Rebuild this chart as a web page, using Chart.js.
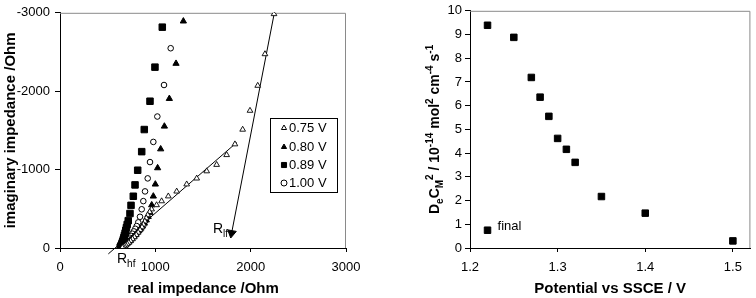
<!DOCTYPE html>
<html><head><meta charset="utf-8">
<script src="https://cdn.jsdelivr.net/npm/chart.js@4.4.0/dist/chart.umd.min.js"></script>
<style>
html,body{margin:0;padding:0;background:#fff;width:756px;height:298px;overflow:hidden}
#w1{position:absolute;left:0;top:0;width:372px;height:298px}
#w2{position:absolute;left:380px;top:0;width:376px;height:298px}
</style></head><body>
<div id="w1"><canvas id="c1"></canvas></div>
<div id="w2"><canvas id="c2"></canvas></div>
<script>
// ---------- Left panel: impedance (Nyquist) ----------
const realTicks = [0, 1000, 2000, 3000];
const imagTicks = [-3000, -2000, -1000, 0];
const seriesNames = ['0.75 V', '0.80 V', '0.89 V', '1.00 V'];

const re075 = [2245,2150,2074,1993,1916,1835,1748,1643,1539,1434,1329,1224,1136,1066,1013,961,940,920,905,890,875,860,840,820,800,780,760,740,722,705,690,676,664,654];
const im075 = [-2985,-2474,-2071,-1752,-1511,-1324,-1187,-1062,-980,-888,-813,-722,-660,-598,-548,-494,-460,-420,-380,-340,-300,-265,-230,-198,-168,-140,-114,-90,-68,-50,-34,-21,-11,-4];

const re080 = [1294,1217,1147,1095,1056,1024,1000,979,962,944,925,905,885,865,845,825,806,788,770,753,737,722,708,695,683,672,662,653];
const im080 = [-2893,-2353,-1905,-1552,-1262,-1021,-813,-660,-548,-452,-400,-355,-315,-280,-248,-218,-190,-164,-140,-118,-98,-80,-64,-50,-37,-26,-16,-8];

const re089 = [1073,996,944,884,857,815,787,769,745,734,716,705,697,690,683,676,670,664,658,653,648,644,640,636,632];
const im089 = [-2817,-2307,-1872,-1511,-1229,-992,-805,-660,-544,-440,-349,-300,-260,-225,-190,-160,-132,-107,-85,-66,-50,-36,-25,-15,-8];

const re100 = [1161,1091,1021,979,944,920,892,874,857,839,821,805,790,775,760,746,733,720,708,697,687,678,670,662,655,648];
const im100 = [-2548,-2079,-1677,-1353,-1096,-888,-722,-598,-494,-398,-327,-280,-245,-212,-182,-155,-130,-108,-88,-70,-54,-40,-28,-18,-10,-4];

// construction lines (fit line through 0.75 V data, and R_lf arrow)
const fitRe = [507, 1853];
const fitIm = [75, -1345];
const arrowRe = [2250, 1800];
const arrowIm = [-3010, -190];

// ---------- Right panel: DeCM^2 vs potential ----------
const potTicks = [1.2, 1.3, 1.4, 1.5];
const dcTicks = [0,1,2,3,4,5,6,7,8,9,10];
const potential = [1.22, 1.25, 1.27, 1.28, 1.29, 1.30, 1.31, 1.32, 1.35, 1.40, 1.50];
const deCm2 = [9.39, 8.88, 7.19, 6.36, 5.55, 4.62, 4.16, 3.61, 2.17, 1.47, 0.30];
const finalPotential = [1.22];
const finalDeCm2 = [0.75];

const FONT = "'Liberation Sans', Arial, Helvetica, sans-serif";
Chart.defaults.font.family = FONT;
Chart.defaults.font.size = 13;
Chart.defaults.color = '#000';
Chart.defaults.animation = false;

const pts = (xs, ys) => xs.map((x, i) => ({x, y: ys[i]}));
const fixTicks = arr => (scale) => { scale.ticks = arr.map(v => ({value: v})); };

function drawRich(ctx, parts, x, y, baseSize, bold) {
  let cx = x;
  for (const [t, m] of parts) {
    const size = m === 'n' ? baseSize : Math.round(baseSize * 0.68);
    ctx.font = (bold ? 'bold ' : '') + size + 'px ' + FONT;
    const dy = m === 'sub' ? baseSize * 0.28 : (m === 'sup' ? -baseSize * 0.42 : 0);
    ctx.fillText(t, cx, y + dy);
    cx += ctx.measureText(t).width;
  }
  return cx - x;
}
function richWidth(ctx, parts, baseSize, bold) {
  let w = 0;
  for (const [t, m] of parts) {
    const size = m === 'n' ? baseSize : Math.round(baseSize * 0.68);
    ctx.font = (bold ? 'bold ' : '') + size + 'px ' + FONT;
    w += ctx.measureText(t).width;
  }
  return w;
}

const framePlugin = {
  id: 'frame',
  beforeDatasetsDraw(chart) {
    const {ctx, chartArea: a} = chart;
    ctx.save();
    ctx.strokeStyle = '#8a8a8a';
    ctx.lineWidth = 1;
    ctx.beginPath();
    ctx.moveTo(a.left, a.top + 0.5);
    ctx.lineTo(a.right - 0.5, a.top + 0.5);
    ctx.lineTo(a.right - 0.5, a.bottom);
    ctx.stroke();
    ctx.restore();
  }
};

const leftDecor = {
  id: 'leftDecor',
  afterDatasetsDraw(chart) {
    const {ctx} = chart;
    ctx.save();
    ctx.fillStyle = '#000';
    ctx.textBaseline = 'alphabetic';
    ctx.textAlign = 'left';
    drawRich(ctx, [['R','n'],['hf','sub']], 117, 263, 14, false);
    drawRich(ctx, [['R','n'],['lf','sub']], 213, 233, 14, false);
    const bx = 270, by = 118, bw = 67, bh = 74;
    ctx.fillStyle = '#fff';
    ctx.fillRect(bx, by, bw, bh);
    ctx.strokeStyle = '#000';
    ctx.lineWidth = 1;
    ctx.strokeRect(bx + 0.5, by + 0.5, bw, bh);
    const styles = chart.data.datasets.slice(0, 4);
    const rowsY = [128, 147, 165, 183];
    ctx.textBaseline = 'middle';
    styles.forEach((ds, i) => {
      ctx.fillStyle = ds.backgroundColor;
      ctx.strokeStyle = ds.borderColor;
      ctx.lineWidth = 1;
      Chart.helpers.drawPoint(ctx, {pointStyle: ds.pointStyle, radius: ds.pointStyle === 'rect' ? 3.6 : 3, borderWidth: 1, rotation: 0}, 284, rowsY[i]);
      ctx.fillStyle = '#000';
      ctx.font = '13px ' + FONT;
      ctx.fillText(ds.label, 289, rowsY[i] + 0.5);
    });
    ctx.restore();
  }
};

const rightDecor = {
  id: 'rightDecor',
  afterDatasetsDraw(chart) {
    const {ctx, chartArea: a} = chart;
    ctx.save();
    ctx.fillStyle = '#000';
    ctx.font = '13px ' + FONT;
    ctx.textBaseline = 'middle';
    ctx.textAlign = 'left';
    const xs = chart.scales.x, ys = chart.scales.y;
    ctx.fillText('final', xs.getPixelForValue(finalPotential[0]) + 10, ys.getPixelForValue(finalDeCm2[0]) - 4);
    const parts = [['D','n'],['e','sub'],['C','n'],['M','sub'],['2','sup'],[' / 10','n'],['-14','sup'],[' mol','n'],['2','sup'],[' cm','n'],['-4','sup'],[' s','n'],['-1','sup']];
    const size = 14;
    const w = richWidth(ctx, parts, size, true);
    ctx.translate(59, (a.top + a.bottom) / 2);
    ctx.rotate(-Math.PI / 2);
    ctx.textBaseline = 'alphabetic';
    drawRich(ctx, parts, -w / 2, 0, size, true);
    ctx.restore();
  }
};

new Chart(document.getElementById('c1'), {
  type: 'scatter',
  data: {
    datasets: [
      {label: seriesNames[0], data: pts(re075, im075), pointStyle: 'triangle', pointRadius: 3.3, backgroundColor: '#fff', borderColor: '#000', borderWidth: 0.9},
      {label: seriesNames[1], data: pts(re080, im080), pointStyle: 'triangle', pointRadius: 3.6, backgroundColor: '#000', borderColor: '#000', borderWidth: 1},
      {label: seriesNames[2], data: pts(re089, im089), pointStyle: 'rect', pointRadius: 4.6, backgroundColor: '#000', borderColor: '#000', borderWidth: 1},
      {label: seriesNames[3], data: pts(re100, im100), pointStyle: 'circle', pointRadius: 2.8, backgroundColor: '#fff', borderColor: '#000', borderWidth: 1},
      {label: 'fit', data: pts(fitRe, fitIm), showLine: true, pointRadius: 0, borderColor: '#000', borderWidth: 1, clip: 12},
      {label: 'Rlf', data: pts(arrowRe, arrowIm), showLine: true, pointRadius: [0, 5], pointStyle: 'triangle', rotation: 190, backgroundColor: '#000', borderColor: '#000', borderWidth: 1, clip: 12}
    ]
  },
  options: {
    responsive: true, maintainAspectRatio: false,
    layout: {padding: {top: 7, right: 26, bottom: 0, left: 0}},
    plugins: {legend: {display: false}, tooltip: {enabled: false}},
    scales: {
      x: {
        type: 'linear', min: 0, max: 3000,
        afterBuildTicks: fixTicks(realTicks),
        afterFit: s => { s.height = 50; },
        grid: {drawOnChartArea: false, tickLength: 4, color: '#000'},
        border: {color: '#000'},
        ticks: {padding: 8, maxRotation: 0, callback: v => String(v)},
        title: {display: true, text: 'real impedance /Ohm', font: {size: 15, weight: 'bold'}, padding: {top: 7, bottom: 0}}
      },
      y: {
        type: 'linear', min: -3000, max: 0, reverse: true,
        afterBuildTicks: fixTicks(imagTicks),
        afterFit: s => { s.width = 60; },
        grid: {drawOnChartArea: false, tickLength: 5, color: '#000'},
        border: {color: '#000'},
        ticks: {padding: 5, callback: v => String(v)},
        title: {display: true, text: 'imaginary impedance /Ohm', font: {size: 15, weight: 'bold'}, padding: {top: 2, bottom: 0}}
      }
    }
  },
  plugins: [framePlugin, leftDecor]
});

new Chart(document.getElementById('c2'), {
  type: 'scatter',
  data: {
    datasets: [
      {label: 'DeCM2', data: pts(potential, deCm2), pointStyle: 'rect', pointRadius: 4.6, backgroundColor: '#000', borderColor: '#000', borderWidth: 1},
      {label: 'final', data: pts(finalPotential, finalDeCm2), pointStyle: 'rect', pointRadius: 4.6, backgroundColor: '#000', borderColor: '#000', borderWidth: 1}
    ]
  },
  options: {
    responsive: true, maintainAspectRatio: false,
    layout: {padding: {top: 7, right: 3, bottom: 0, left: 0}},
    plugins: {legend: {display: false}, tooltip: {enabled: false}},
    scales: {
      x: {
        type: 'linear', min: 1.2, max: 1.52,
        afterBuildTicks: fixTicks(potTicks),
        afterFit: s => { s.height = 50; },
        grid: {drawOnChartArea: false, tickLength: 4, color: '#000'},
        border: {color: '#000'},
        ticks: {padding: 8, maxRotation: 0, callback: v => v.toFixed(1)},
        title: {display: true, text: 'Potential vs SSCE / V', font: {size: 15, weight: 'bold'}, padding: {top: 7, bottom: 0}}
      },
      y: {
        type: 'linear', min: 0, max: 10,
        afterBuildTicks: fixTicks(dcTicks),
        afterFit: s => { s.width = 90; },
        grid: {drawOnChartArea: false, tickLength: 5, color: '#000'},
        border: {color: '#000'},
        ticks: {padding: 3, callback: v => String(v)}
      }
    }
  },
  plugins: [framePlugin, rightDecor]
});
</script>
</body></html>
